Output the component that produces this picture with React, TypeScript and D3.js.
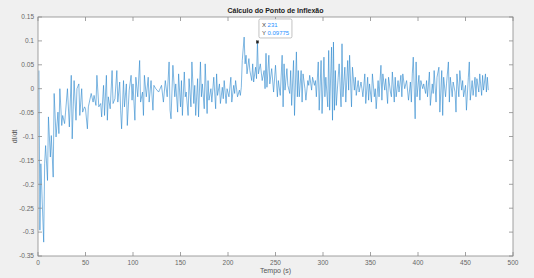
import React from "react";
import * as d3 from "d3";

// pontos (tempo, dI/dt)
const serie: [number, number][] = [
  [1,0.038],[2,-0.296],[3,-0.157],[6,-0.321],[7,-0.157],[8,-0.119],[10,-0.192],[11,-0.059],[13,-0.143],[14,-0.098],
  [16,-0.185],[17,-0.010],[19,-0.101],[21,-0.049],[22,-0.094],[23,0],[25,-0.077],[26,-0.056],[28,-0.073],[29,-0.049],
  [31,0],[33,-0.080],[35,0.028],[36,-0.105],[38,0.017],[40,-0.066],[41,0],[43,0.010],[44,-0.056],[46,0],
  [47,-0.049],[49,-0.038],[50,-0.042],[52,-0.084],[53,-0.038],[56,-0.010],[58,-0.028],[59,-0.014],[61,-0.035],[62,0.028],
  [64,-0.038],[66,-0.031],[67,-0.059],[69,0.007],[70,-0.056],[72,0.028],[73,-0.066],[74,-0.017],[76,-0.042],[78,0.038],
  [79,-0.031],[81,-0.021],[83,0.038],[84,-0.028],[86,0.014],[87,-0.045],[88,-0.084],[90,0.017],[91,-0.038],[93,0.010],
  [94,-0.077],[96,-0.003],[98,0.028],[99,-0.024],[100,0.010],[102,-0.066],[103,0.024],[105,-0.017],[107,0.059],[108,-0.028],
  [110,-0.007],[111,-0.056],[112,0.028],[114,-0.017],[116,0.024],[117,-0.028],[119,0.017],[121,-0.045],[122,0.007],[124,0],
  [127,-0.007],[130,0.007],[132,-0.028],[134,0.017],[136,-0.017],[138,0.056],[139,-0.045],[140,-0.063],[142,0.049],[144,-0.017],
  [145,0.010],[147,-0.049],[148,0.031],[150,-0.038],[151,0.017],[152,-0.056],[154,0.035],[155,-0.017],[156,-0.007],[158,-0.056],
  [159,0.021],[161,-0.038],[162,0.056],[164,-0.031],[165,0.007],[166,-0.056],[168,0.021],[169,-0.059],[171,0.056],[172,-0.017],
  [173,0.010],[175,-0.042],[176,0.052],[178,-0.052],[179,0.017],[180,-0.024],[182,0],[183,-0.028],[185,0.024],[187,-0.042],
  [188,0.031],[189,-0.014],[191,0.010],[192,-0.031],[194,0.003],[195,-0.021],[196,0.017],[198,-0.031],[199,0],[201,-0.017],
  [203,0.024],[204,-0.028],[206,0.007],[207,-0.010],[208,0.017],[210,-0.017],[212,-0.003],[213,-0.014],[214,0.003],[215,0.059],
  [217,0.108],[218,0.052],[219,0.070],[220,0.031],[222,0.063],[223,0.038],[225,0.017],[226,0.052],[227,0.014],[229,0.045],
  [230,0.021],[231,0.09775],[232,0.031],[234,0.052],[236,0.017],[238,0.038],[239,0],[240,0.074],[241,0.003],[243,0.070],
  [244,0.010],[246,0.042],[248,-0.007],[250,0.049],[252,-0.017],
  [253,0.017],[255,-0.014],[257,0.070],[258,-0.038],[259,0.052],[260,-0.003],[262,0.042],[263,0.007],[265,-0.010],[266,0.038],
  [267,-0.035],[269,0.059],[270,-0.056],[272,0.077],[273,-0.017],[274,0.038],[275,-0.017],[277,0.038],[278,-0.028],[279,0.031],
  [281,0],[282,-0.024],[284,0.017],[285,0.007],[286,0.028],[288,-0.003],[289,0.024],[291,0.007],[292,0.017],[293,-0.017],
  [295,0.056],[296,-0.045],[298,0.059],[299,-0.052],[301,0.066],[302,-0.017],[303,0.024],[305,-0.038],[306,0.080],[307,-0.045],
  [309,0.087],[310,-0.066],[311,0.0976],[312,-0.045],[313,0.038],[314,-0.035],[316,0.024],[317,0.052],[319,-0.038],[320,0.094],
  [321,-0.017],[323,0.045],[324,-0.028],[326,0.059],[327,-0.003],[328,0.070],[330,-0.038],[331,0.045],[333,-0.003],[334,0.024],
  [335,-0.014],[337,0.017],[338,-0.007],[340,0.014],[341,0],[342,-0.017],[344,0.031],[345,-0.031],[347,0.024],[348,-0.024],
  [349,0.010],[351,-0.028],[352,0.031],[354,-0.017],[355,0],[356,-0.042],[358,0.017],[359,-0.017],[361,0.049],[362,-0.024],
  [363,0.031],[365,-0.003],[366,0.021],[368,-0.031],[369,0.024],[371,-0.007],
  [372,-0.017],[373,0.035],[375,-0.028],[376,0.024],[377,-0.017],[379,0.017],[380,-0.007],[382,0.028],[383,-0.017],[384,0.031],
  [386,0],[388,0.017],[390,-0.024],[392,0.014],[393,-0.028],[394,0.031],[395,0.066],[397,-0.063],[398,0.056],[399,-0.017],
  [401,0.028],[402,-0.024],[403,0.017],[405,0],[406,0.010],[408,-0.010],[409,0.017],[410,-0.017],[412,0.035],[413,-0.035],
  [415,0.010],[416,-0.010],[417,0.038],[419,-0.028],[420,0.024],[422,0.045],[423,-0.049],[425,0.038],[426,-0.056],[427,0.024],
  [429,-0.017],[430,0.010],[432,0.056],[433,-0.028],[434,0.024],[436,-0.017],[437,0.014],[439,-0.007],[440,-0.049],[441,0.031],
  [443,-0.017],[444,0.038],[446,-0.003],[447,0.017],[448,-0.017],[450,0.007],[451,-0.045],[453,0.024],[454,0.056],[455,-0.024],
  [457,0.017],[458,-0.014],[460,0.024],[461,-0.017],[462,0.021],[464,-0.007],[465,0.031],[467,-0.014],[468,0.028],[469,-0.003],
  [471,0.031],[472,-0.007],[473,0.024],[474,-0.003]
];

const xTicks = [0, 50, 100, 150, 200, 250, 300, 350, 400, 450, 500];
const yTicks = [-0.35, -0.3, -0.25, -0.2, -0.15, -0.1, -0.05, 0, 0.05, 0.1, 0.15];

const titulo = "Cálculo do Ponto de Inflexão";
const xLabel = "Tempo (s)";
const yLabel = "dI/dt";

// data tip
const tipX = 231;
const tipY = 0.09775;

export default function App() {
  const W = 534, H = 278;
  const left = 38, right = 513, top = 17, bottom = 256;
  const font = "'Liberation Sans', Arial, sans-serif";
  const axisColor = "#8a8a8a";
  const tick = 4;

  const x = d3.scaleLinear().domain([0, 500]).range([left, right]);
  const y = d3.scaleLinear().domain([-0.35, 0.15]).range([bottom, top]);

  const linha = d3.line<[number, number]>()
    .x(d => x(d[0]))
    .y(d => y(d[1]))(serie);

  const tx = x(tipX), ty = y(tipY);

  return (
    <svg width={W} height={H} style={{ position: "absolute", left: 0, top: 0 }} fontFamily={font}>
      <rect x={0} y={0} width={W} height={H} fill="#f0f0f0" />
      <rect x={left} y={top} width={right - left} height={bottom - top} fill="#fff" />

      <path d={linha || ""} fill="none" stroke="#2a86cc" strokeWidth={0.6} />

      {/* eixos */}
      <rect x={left} y={top} width={right - left} height={bottom - top} fill="none" stroke={axisColor} strokeWidth={0.8} />
      {xTicks.map(t => (
        <g key={"x" + t}>
          <line x1={x(t)} x2={x(t)} y1={bottom} y2={bottom - tick} stroke={axisColor} strokeWidth={0.8} />
          <line x1={x(t)} x2={x(t)} y1={top} y2={top + tick} stroke={axisColor} strokeWidth={0.8} />
          <text x={x(t)} y={bottom + 9} fontSize={6.5} fill="#666" textAnchor="middle">{t}</text>
        </g>
      ))}
      {yTicks.map(t => (
        <g key={"y" + t}>
          <line x1={left} x2={left + tick} y1={y(t)} y2={y(t)} stroke={axisColor} strokeWidth={0.8} />
          <line x1={right} x2={right - tick} y1={y(t)} y2={y(t)} stroke={axisColor} strokeWidth={0.8} />
          <text x={left - 4} y={y(t) + 2.3} fontSize={6.5} fill="#666" textAnchor="end">{String(t)}</text>
        </g>
      ))}

      <text x={(left + right) / 2} y={13} fontSize={7} fontWeight="bold" fill="#222" textAnchor="middle">{titulo}</text>
      <text x={(left + right) / 2} y={273} fontSize={7} fill="#555" textAnchor="middle">{xLabel}</text>
      <text transform={`translate(17,${(top + bottom) / 2}) rotate(-90)`} fontSize={7} fill="#555" textAnchor="middle">{yLabel}</text>

      {/* data tip */}
      <rect x={tx + 1.5} y={ty - 23} width={33} height={19} rx={1.5} fill="#fff" fillOpacity={0.92} stroke="#9a9a9a" strokeWidth={0.6} />
      <text x={tx + 4.5} y={ty - 14.5} fontSize={6} fill="#444">X <tspan fill="#1e90ff">{tipX}</tspan></text>
      <text x={tx + 4.5} y={ty - 7} fontSize={6} fill="#444">Y <tspan fill="#1e90ff">{tipY}</tspan></text>
      <rect x={tx - 1.25} y={ty - 1.25} width={2.5} height={2.5} fill="#222" stroke="#555" strokeWidth={0.4} />
    </svg>
  );
}
